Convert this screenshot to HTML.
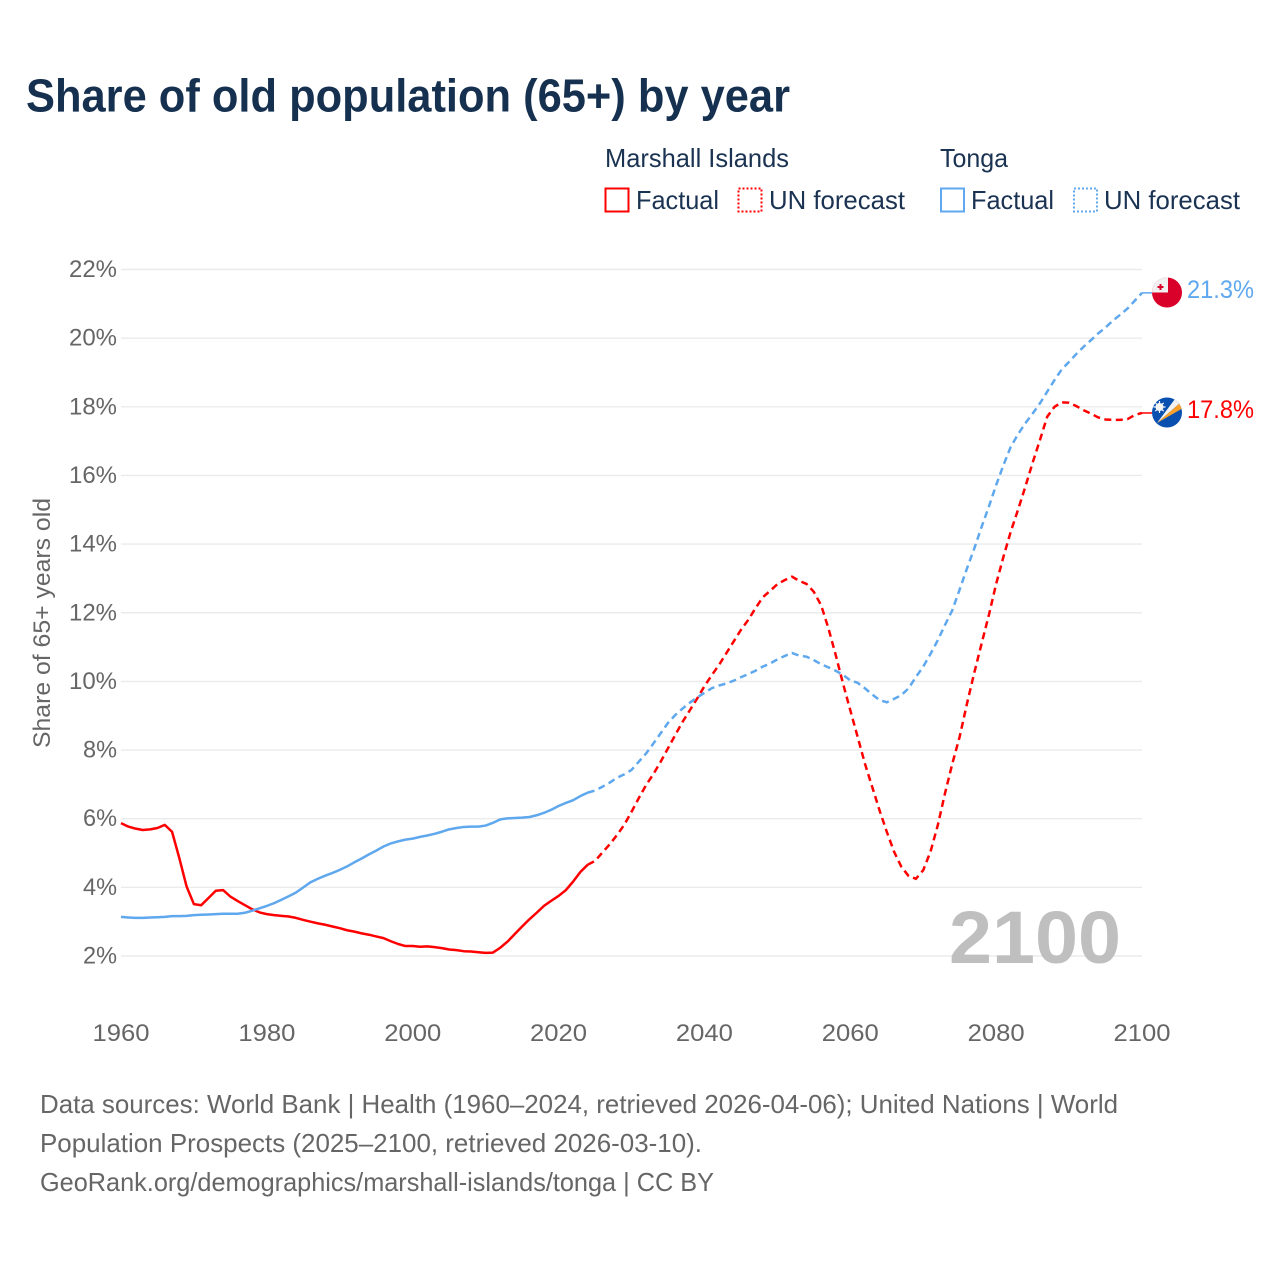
<!DOCTYPE html>
<html lang="en">
<head>
<meta charset="utf-8">
<title>Share of old population (65+) by year</title>
<style>
html,body{margin:0;padding:0;background:#fff;width:1280px;height:1280px;overflow:hidden}
svg{display:block}
text{font-family:"Liberation Sans",sans-serif}
</style>
</head>
<body>
<svg id="chart" width="1280" height="1280" viewBox="0 0 1280 1280" xmlns="http://www.w3.org/2000/svg">
  <defs>
    <clipPath id="clip-tonga"><circle cx="1167" cy="292.5" r="15"/></clipPath>
    <clipPath id="clip-marshall"><circle cx="1167" cy="412.5" r="15"/></clipPath>
  </defs>
  <rect x="0" y="0" width="1280" height="1280" fill="#fff"/>
  <text x="26" y="111.5" font-size="46" font-weight="700" fill="#16304f" textLength="764" lengthAdjust="spacingAndGlyphs">Share of old population (65+) by year</text>

  <g font-size="26" fill="#1b3352">
    <text x="605" y="167" textLength="184" lengthAdjust="spacingAndGlyphs">Marshall Islands</text>
    <text x="940" y="167" textLength="68" lengthAdjust="spacingAndGlyphs">Tonga</text>
    <rect x="605.5" y="188.5" width="23" height="23" fill="none" stroke="#ff0000" stroke-width="2"/>
    <text x="636" y="209" textLength="83" lengthAdjust="spacingAndGlyphs">Factual</text>
    <rect x="738.5" y="188.5" width="23" height="23" fill="none" stroke="#ff0000" stroke-width="2" stroke-dasharray="2 2"/>
    <text x="769" y="209" textLength="136" lengthAdjust="spacingAndGlyphs">UN forecast</text>
    <rect x="941" y="188.5" width="23" height="23" fill="none" stroke="#5fa8ee" stroke-width="2"/>
    <text x="971" y="209" textLength="83" lengthAdjust="spacingAndGlyphs">Factual</text>
    <rect x="1074" y="188.5" width="23" height="23" fill="none" stroke="#5fa8ee" stroke-width="2" stroke-dasharray="2 2"/>
    <text x="1104" y="209" textLength="136" lengthAdjust="spacingAndGlyphs">UN forecast</text>
  </g>

  <g id="grid"></g>
  <g id="y-axis"></g>
  <g id="x-axis"></g>
  <text transform="translate(50,748) rotate(-90)" font-size="24" fill="#666" textLength="250" lengthAdjust="spacingAndGlyphs">Share of 65+ years old</text>
  <text x="949" y="963" font-size="74" font-weight="700" fill="#bfbfbf" textLength="172" lengthAdjust="spacingAndGlyphs">2100</text>
  <g id="series"></g>

  <g clip-path="url(#clip-tonga)">
    <rect x="1150" y="275" width="34" height="34" fill="#d9002a"/>
    <rect x="1150" y="275" width="18" height="17.5" fill="#f0f0f0"/>
    <rect x="1159.5" y="284" width="2" height="6" fill="#d9002a"/>
    <rect x="1157.5" y="286" width="6" height="2" fill="#d9002a"/>
  </g>
  <g clip-path="url(#clip-marshall)">
    <rect x="1150" y="395" width="34" height="34" fill="#0a50b0"/>
    <polygon points="1157,423 1175,399 1180,403" fill="#f2f2f2"/>
    <polygon points="1157,423 1180,403 1183,408" fill="#f7a02c"/>
    <circle cx="1159.5" cy="407" r="4" fill="#f5f5f5"/>
    <path d="M1159.5 401v12M1153.5 407h12M1155.3 402.8l8.4 8.4M1163.7 402.8l-8.4 8.4" stroke="#f5f5f5" stroke-width="1.2"/>
  </g>
  <text id="value-tonga" x="1187" y="298" font-size="25" fill="#5fa8ee" textLength="67" lengthAdjust="spacingAndGlyphs">21.3%</text>
  <text id="value-marshall" x="1187" y="418" font-size="25" fill="#ff0000" textLength="67" lengthAdjust="spacingAndGlyphs">17.8%</text>

  <g font-size="26" fill="#666">
    <text x="40" y="1113" textLength="1078" lengthAdjust="spacingAndGlyphs">Data sources: World Bank | Health (1960–2024, retrieved 2026-04-06); United Nations | World</text>
    <text x="40" y="1152" textLength="662" lengthAdjust="spacingAndGlyphs">Population Prospects (2025–2100, retrieved 2026-03-10).</text>
    <text x="40" y="1191" textLength="674" lengthAdjust="spacingAndGlyphs">GeoRank.org/demographics/marshall-islands/tonga | CC BY</text>
  </g>
</svg>
<script>
const startYear = 1960;
const lastFactualYear = 2025;
const xTicks = [1960, 1980, 2000, 2020, 2040, 2060, 2080, 2100];
const yTicks = [2, 4, 6, 8, 10, 12, 14, 16, 18, 20, 22];
const marshallValues = [
5.87,5.77,5.71,5.67,5.69,5.73,5.82,5.62,4.85,4.02,
3.51,3.48,3.69,3.90,3.92,3.73,3.60,3.48,3.36,3.27,
3.22,3.19,3.17,3.15,3.11,3.05,3.00,2.95,2.91,2.86,
2.81,2.75,2.71,2.66,2.62,2.57,2.52,2.43,2.35,2.29,
2.29,2.27,2.28,2.26,2.23,2.19,2.17,2.14,2.13,2.11,
2.09,2.10,2.24,2.42,2.64,2.86,3.07,3.26,3.46,3.61,
3.75,3.92,4.17,4.45,4.66,4.77,5.01,5.25,5.52,5.82,
6.20,6.60,6.98,7.30,7.66,8.05,8.44,8.82,9.16,9.50,
9.86,10.18,10.48,10.82,11.16,11.50,11.79,12.13,12.45,12.64,
12.83,12.95,13.05,12.93,12.84,12.61,12.22,11.55,10.77,9.94,
9.16,8.39,7.61,6.93,6.25,5.62,5.04,4.60,4.33,4.25,
4.50,5.04,5.81,6.75,7.61,8.39,9.35,10.25,11.10,11.93,
12.84,13.63,14.36,15.00,15.67,16.37,17.03,17.71,18.00,18.13,
18.12,18.02,17.90,17.80,17.69,17.63,17.62,17.62,17.64,17.76,
17.82];
const tongaValues = [
3.14,3.12,3.11,3.11,3.12,3.13,3.14,3.16,3.16,3.17,
3.19,3.20,3.21,3.22,3.23,3.23,3.23,3.26,3.32,3.39,
3.46,3.54,3.64,3.74,3.85,4.00,4.15,4.25,4.34,4.42,
4.51,4.61,4.73,4.84,4.96,5.07,5.19,5.28,5.34,5.39,
5.42,5.47,5.51,5.56,5.62,5.69,5.73,5.76,5.77,5.77,
5.80,5.88,5.98,6.01,6.02,6.03,6.05,6.10,6.17,6.26,
6.37,6.46,6.54,6.66,6.76,6.82,6.93,7.05,7.19,7.29,
7.42,7.66,7.90,8.19,8.49,8.79,9.02,9.21,9.38,9.53,
9.67,9.80,9.88,9.94,10.02,10.12,10.21,10.31,10.43,10.52,
10.64,10.74,10.83,10.75,10.72,10.62,10.50,10.41,10.31,10.19,
10.03,9.96,9.80,9.62,9.46,9.39,9.49,9.60,9.80,10.13,
10.43,10.80,11.20,11.65,12.08,12.68,13.29,13.87,14.50,15.09,
15.72,16.30,16.83,17.20,17.52,17.80,18.10,18.44,18.78,19.09,
19.31,19.54,19.75,19.94,20.14,20.31,20.51,20.68,20.86,21.09,
21.32];

const NS = 'http://www.w3.org/2000/svg';
const xAt = function (year) { return 121 + (year - 1960) * (1142 - 121) / 140; };
const yAt = function (pct) { return 956 - (pct - 2) * (956 - 269.5) / 20; };

function make(tag, parentId) {
  const el = document.createElementNS(NS, tag);
  document.getElementById(parentId).appendChild(el);
  return el;
}

function pathFor(values, fromYear, toYear) {
  let d = '';
  for (let y = fromYear; y <= toYear; y++) {
    const v = values[y - startYear];
    d += (d ? 'L' : 'M') + xAt(y).toFixed(2) + ' ' + yAt(v).toFixed(2);
  }
  return d;
}

yTicks.forEach(function (t) {
  const line = make('line', 'grid');
  
  
  line.setAttribute('x1', xAt(1960));
  line.setAttribute('x2', xAt(2100));
  line.setAttribute('y1', yAt(t));
  line.setAttribute('y2', yAt(t));
  line.setAttribute('stroke', '#ebebeb');
  line.setAttribute('stroke-width', '1.4');

  const label = make('text', 'y-axis');
  
  
  label.setAttribute('x', 117);
  label.setAttribute('y', yAt(t) + 7.5);
  label.setAttribute('text-anchor', 'end');
  label.setAttribute('font-size', '24');
  label.setAttribute('fill', '#666');
  label.setAttribute('textLength', t >= 10 ? 48 : 34);
  label.setAttribute('lengthAdjust', 'spacingAndGlyphs');
  label.textContent = t + '%';
});

xTicks.forEach(function (t) {
  const label = make('text', 'x-axis');
  
  
  label.setAttribute('x', xAt(t));
  label.setAttribute('y', 1041);
  label.setAttribute('text-anchor', 'middle');
  label.setAttribute('font-size', '24');
  label.setAttribute('fill', '#666');
  label.setAttribute('textLength', 57);
  label.setAttribute('lengthAdjust', 'spacingAndGlyphs');
  label.textContent = t;
});

function drawSeries(name, values, color) {
  const lastYear = startYear + values.length - 1;

  const factual = make('path', 'series');
  
  
  factual.setAttribute('d', pathFor(values, startYear, lastFactualYear - 1));
  factual.setAttribute('fill', 'none');
  factual.setAttribute('stroke', color);
  factual.setAttribute('stroke-width', '2.5');
  factual.setAttribute('stroke-linejoin', 'round');

  const forecast = make('path', 'series');
  
  
  forecast.setAttribute('d', pathFor(values, lastFactualYear - 1, lastYear));
  forecast.setAttribute('fill', 'none');
  forecast.setAttribute('stroke', color);
  forecast.setAttribute('stroke-width', '2.5');
  forecast.setAttribute('stroke-dasharray', '7 4.5');

  const connector = make('line', 'series');
  
  
  connector.setAttribute('x1', xAt(lastYear));
  connector.setAttribute('x2', 1152);
  connector.setAttribute('y1', yAt(values[values.length - 1]));
  connector.setAttribute('y2', yAt(values[values.length - 1]));
  connector.setAttribute('stroke', color);
  connector.setAttribute('stroke-width', '1.5');
}

drawSeries('marshall-islands', marshallValues, '#ff0000');
drawSeries('tonga', tongaValues, '#5fa8ee');
document.getElementById('value-tonga').textContent = tongaValues[tongaValues.length - 1].toFixed(1) + '%';
document.getElementById('value-marshall').textContent = marshallValues[marshallValues.length - 1].toFixed(1) + '%';
</script>
</body>
</html>
